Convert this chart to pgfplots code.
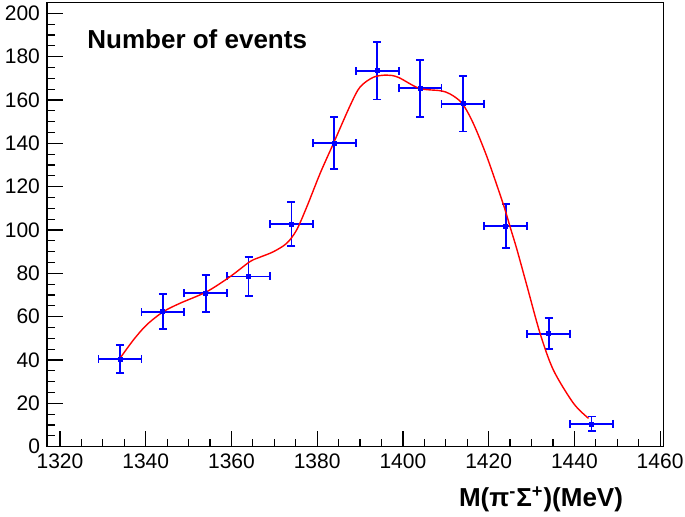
\documentclass[border=0pt]{standalone}
\usepackage{fontspec}
\setmainfont{Liberation Sans}
\usepackage{pgfplots}
\usepackage{pgfplotstable}
\pgfplotsset{compat=1.18}
\pgfplotstableread{
x y ex ey
1334 40.5 5 6.5
1344 62.3 5 8
1354 70.8 5 8.6
1364 78.6 5 9
1374 102.8 5 10.2
1384 140 5 12
1394 173.5 5 13.3
1404 165.4 5 13.1
1414 158.3 5 12.8
1424 101.9 5 10.1
1434 52.2 5 7.1
1444 10.5 5 3.4
}\datatable
\begin{document}
\begin{tikzpicture}
\begin{axis}[
  at={(0,0)}, anchor=south west,
  scale only axis, width=308.2pt, height=222.2pt,
  xmin=1316.97, xmax=1460.77, ymin=0, ymax=205.1,
  axis line style={line width=0.6pt, black},
  xtick={1320,1340,...,1460}, ytick={0,20,...,200},
  minor x tick num=3, minor y tick num=3,
  tick align=inside, xtick pos=bottom, ytick pos=left,
  major tick length=8pt, minor tick length=3.8pt,
  tick style={black, line width=0.6pt},
  ticklabel style={font=\fontsize{10.5}{12}\selectfont},
  /pgf/number format/assume math mode=true,
  /pgf/number format/1000 sep={},
  clip=false,
]
\addplot[blue, mark=square*, mark size=1pt, only marks,
  error bars/.cd, x dir=both, x explicit, y dir=both, y explicit,
  error mark=-,
  error bar style={blue, line width=0.9pt},
  error mark options={rotate=90, blue, mark size=2pt, line width=0.9pt}]
  table[x=x, y=y, x error=ex, y error=ey] {\datatable};
\addplot[red, line width=0.7pt, smooth, no marks] coordinates {
(1334,40.8)(1337.1,49.2)(1340.2,56.2)(1344.1,62.3)(1348,66.2)(1354.2,71.5)
(1359.7,78.5)(1364.3,85.4)(1366.7,87.5)(1369.8,90)(1372.9,93.9)(1375.2,100)
(1377.6,110.8)(1380.7,126.2)(1383.8,140)(1387.7,157.5)(1390,166)(1393.1,170.5)
(1396.2,171.5)(1398.9,170.5)(1403.8,165.4)(1408.7,164.3)(1411,162.8)(1413.8,158.5)
(1416.4,149.3)(1419.6,133.8)(1423.4,112)(1425,101.5)(1426.6,91)(1428.9,74.5)
(1432,52.3)(1435.1,35.4)(1439.8,20)(1443.3,13.1)
};
\node[anchor=base west, inner sep=0, font=\bfseries\fontsize{13}{15}\selectfont]
  at ([xshift=20pt,yshift=-22.85pt]rel axis cs:0,1) {Number of events};
\node[anchor=base east, inner sep=0, font=\bfseries\fontsize{13}{15}\selectfont]
  at ([xshift=-20pt,yshift=-29.9pt]rel axis cs:1,0) {M(π\textsuperscript{-}Σ\textsuperscript{+})(MeV)};
\end{axis}
\pgfresetboundingbox
\path[use as bounding box] (-23.5pt,-34.65pt) rectangle (319pt,223.35pt);
\end{tikzpicture}
\end{document}
